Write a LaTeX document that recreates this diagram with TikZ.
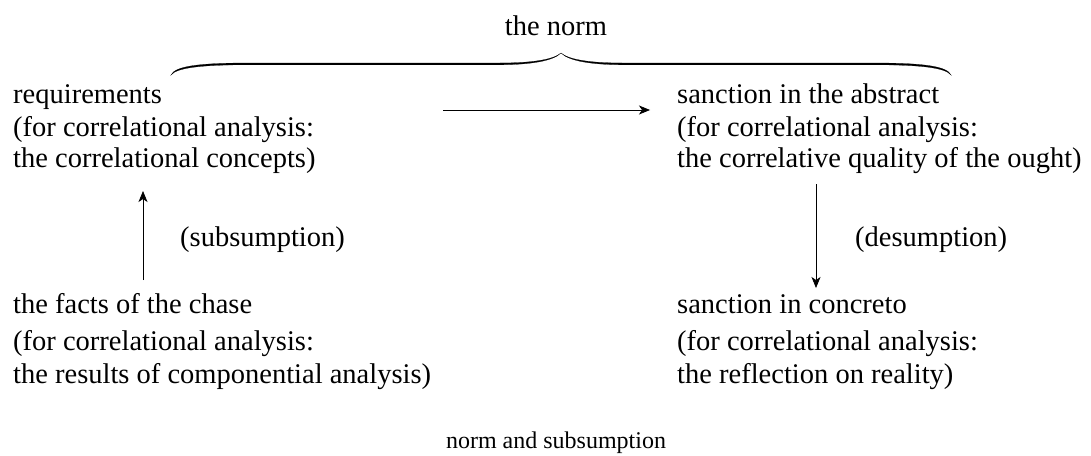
\documentclass[tikz,border=0pt]{standalone}
\usepackage{fontspec}
\setmainfont{Liberation Serif}
\usetikzlibrary{arrows.meta}
\begin{document}
\begin{tikzpicture}[x=1pt,y=-1pt,
  txt/.style={font=\fontsize{28.5}{34}\selectfont, inner sep=0pt, anchor=base west},
  toptxt/.style={font=\fontsize{28.5}{34}\selectfont, inner sep=0pt, anchor=base},
  captxt/.style={font=\fontsize{24}{28}\selectfont, inner sep=0pt, anchor=base},
  arr/.style={-{Stealth[length=11pt,width=9pt,inset=3pt]}, line width=0.75pt},
  bracefill/.style={fill=black, draw=black, line width=0.2pt}]
\useasboundingbox (0,0) rectangle (1091,455);
% title and brace
\node[toptxt] (norm) at (556,35) {the norm};
\fill[bracefill] (171,75) .. controls (175,66) and (200,63.4) .. (240,63)
  -- (500,63) .. controls (530,63) and (553,60) .. (561,53)
  .. controls (553,61.2) and (530,64.6) .. (500,64.8)
  -- (240,64.8) .. controls (202,65.2) and (177,67.5) .. (171,75) -- cycle;
\fill[bracefill] (951,75) .. controls (947,66) and (922,63.4) .. (882,63)
  -- (622,63) .. controls (592,63) and (569,60) .. (561,53)
  .. controls (569,61.2) and (592,64.6) .. (622,64.8)
  -- (882,64.8) .. controls (920,65.2) and (945,67.5) .. (951,75) -- cycle;
% upper left block
\node[txt] (req1) at (13,103) {requirements};
\node[txt] (req2) at (13,136) {(for correlational analysis:};
\node[txt] (req3) at (13,167) {the correlational concepts)};
% upper right block
\node[txt] (sab1) at (677,103) {sanction in the abstract};
\node[txt] (sab2) at (677,136) {(for correlational analysis:};
\node[txt] (sab3) at (677,167) {the correlative quality of the ought)};
% lower left block
\node[txt] (fac1) at (13,313) {the facts of the chase};
\node[txt] (fac2) at (13,350) {(for correlational analysis:};
\node[txt] (fac3) at (13,383) {the results of componential analysis)};
% lower right block
\node[txt] (scc1) at (677,313) {sanction in concreto};
\node[txt] (scc2) at (677,350) {(for correlational analysis:};
\node[txt] (scc3) at (677,383) {the reflection on reality)};
% side labels
\node[txt] (sub) at (180,246) {(subsumption)};
\node[txt] (des) at (855,246) {(desumption)};
% caption
\node[captxt] (cap) at (556,448) {norm and subsumption};
% arrows
\coordinate (h1) at (443,110);
\coordinate (h2) at (650,110);
\draw[arr] (h1) -- (h2);
\coordinate (u1) at (143,280);
\coordinate (u2) at (143,191);
\draw[arr] (u1) -- (u2);
\coordinate (d1) at (816,184);
\coordinate (d2) at (816,288);
\draw[arr] (d1) -- (d2);
\end{tikzpicture}
\end{document}
